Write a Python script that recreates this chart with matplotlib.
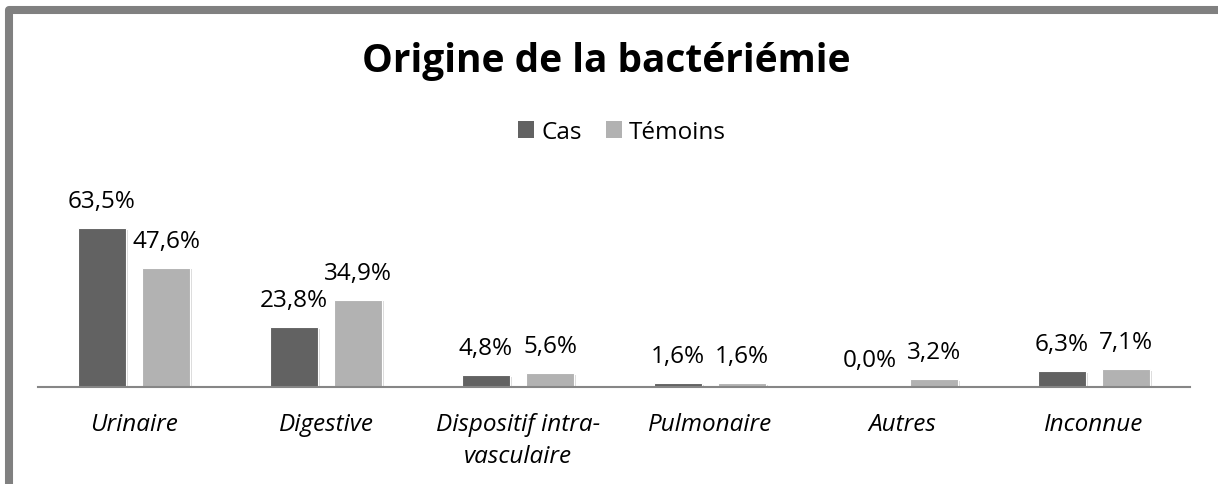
import numpy as np
import matplotlib
matplotlib.use('Agg')
import matplotlib.pyplot as plt
import matplotlib.patheffects as pe
from matplotlib.patches import Patch, Rectangle

categories = ['Urinaire', 'Digestive', 'Dispositif intra-\nvasculaire', 'Pulmonaire', 'Autres', 'Inconnue']
cas = [63.5, 23.8, 4.8, 1.6, 0.0, 6.3]
temoins = [47.6, 34.9, 5.6, 1.6, 3.2, 7.1]
series_names = ['Cas', 'Témoins']

plt.rcParams['font.family'] = ['Open Sans', 'DejaVu Sans']

col_cas = '#626262'
col_tem = '#b2b2b2'
W, H = 1218, 485

fig = plt.figure(figsize=(W / 100, H / 100), dpi=100)
fig.patch.set_facecolor('white')

# gray outer frame (partly cut at right/bottom, like the screenshot)
frame = Rectangle((9 / W, -4 / H), (1220 - 9) / W, (485 - 11 + 4) / H,
                  transform=fig.transFigure, fill=False, edgecolor='#808080',
                  linewidth=5.8, joinstyle='round', zorder=0)
fig.patches.append(frame)

ax = fig.add_axes([38 / W, 97 / H, 1152 / W, 238 / H])
x = np.arange(len(categories))
bw = 0.255
off = 0.1667
shadow = [pe.SimplePatchShadow(offset=(1.2, -1.2), shadow_rgbFace='#bbbbbb', alpha=0.5), pe.Normal()]
b1 = ax.bar(x - off, cas, bw, color=col_cas, edgecolor='white', linewidth=0.8)
b2 = ax.bar(x + off, temoins, bw, color=col_tem, edgecolor='white', linewidth=0.8)
for b in list(b1) + list(b2):
    b.set_path_effects(shadow)

ax.set_xlim(-0.5, len(categories) - 0.5)
ax.set_ylim(0, 238 / 2.504)

fs = 17.5
for bars, vals in ((b1, cas), (b2, temoins)):
    for b, v in zip(bars, vals):
        ax.annotate(f'{v:.1f}%'.replace('.', ','), (b.get_x() + b.get_width() / 2, v),
                    xytext=(0, 19.4), textcoords='offset points',
                    ha='center', va='center', fontsize=fs, color='black')

for s in ['top', 'right', 'left']:
    ax.spines[s].set_visible(False)
ax.spines['bottom'].set_color('#868686')
ax.spines['bottom'].set_linewidth(1.5)
ax.set_yticks([])
ax.set_xticks(x)
ax.set_xticklabels(categories, fontsize=fs, style='italic', linespacing=1.45)
ax.tick_params(axis='x', length=0, pad=18)

fig.text(606 / W, 1 - 72 / H, 'Origine de la bactériémie', ha='center', va='baseline',
         fontsize=28, fontweight='bold')

handles = [Patch(facecolor=col_cas), Patch(facecolor=col_tem)]
fig.legend(handles, series_names, loc='center', bbox_to_anchor=(622 / W, 1 - 133 / H),
           ncol=2, frameon=False, fontsize=fs, handlelength=0.65, handleheight=0.65,
           handletextpad=0.3, columnspacing=1.0, borderpad=0)

fig.savefig('out.png', dpi=100, facecolor='white')
